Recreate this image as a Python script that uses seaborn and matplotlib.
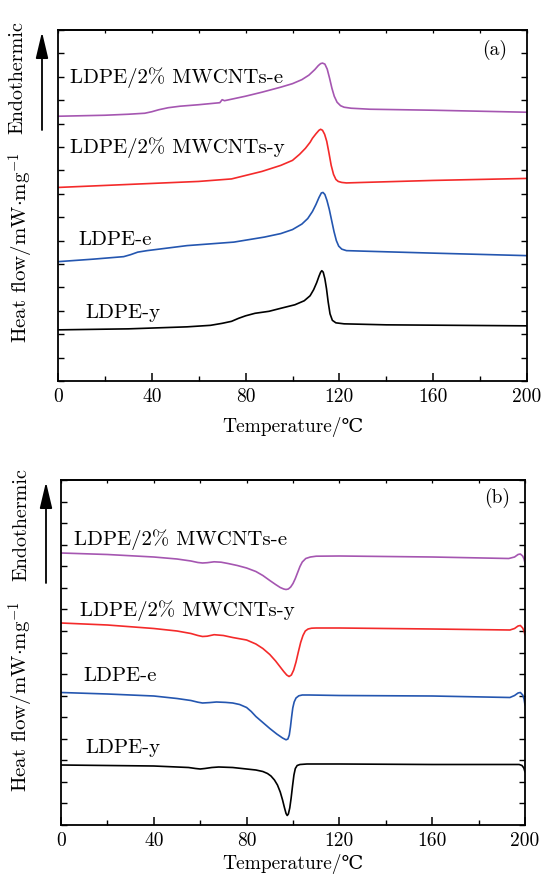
import matplotlib
matplotlib.use("Agg")
import matplotlib.pyplot as plt
import seaborn as sns
import pandas as pd
from matplotlib.ticker import MultipleLocator

# ---------------- data (panel a: heating) ----------------
# y values are in arbitrary heat-flow units (axis has no tick labels)
a_mw_e_T = [0, 20, 30, 37, 40, 43, 47, 52, 60, 69, 70, 71, 80, 87, 95, 100, 104, 107, 109.5,
            111, 112, 112.8, 113.8, 114.8, 115.8, 116.8, 117.8, 119, 120.5, 122, 125, 133,
            160, 200]
a_mw_e_y = [264, 265, 266, 267, 268.5, 270.5, 272.5, 274, 275.5, 277.5, 280.5, 279.5, 284,
            288, 293, 296.5, 300.5, 305, 310.5, 314.5, 316.5, 317, 316, 311, 302, 292, 284,
            278, 274.5, 273, 272, 271, 270, 268]

a_mw_y_T = [0, 30, 60, 74, 87, 95, 100, 103, 105.5, 107.5, 108.5, 110, 111.3, 112, 112.8,
            113.7, 114.6, 115.5, 116.5, 117.5, 118.5, 119.5, 121, 123, 130, 160, 200]
a_mw_y_y = [193, 196, 199, 201.5, 209, 215, 220, 226, 232, 238, 242, 246.5, 250, 251,
            250, 246, 239, 228, 215, 206, 201, 199, 198, 197.5, 198, 200, 202]

a_pe_e_T = [0, 15, 28, 31, 34, 38, 55, 75, 88, 95, 100, 104, 106.5, 108.5, 110, 111.3,
            112.3, 113, 113.8, 114.7, 115.7, 116.7, 117.7, 118.7, 119.7, 121, 123, 130, 160,
            200]
a_pe_e_y = [119, 121.5, 124, 126, 128.5, 130, 135, 138.5, 143.5, 147, 151, 156.5, 162,
            169, 176, 183, 187.5, 188, 186, 180, 171, 160, 149, 140, 134.5, 131.5, 130,
            129.5, 127.5, 125]

a_pe_y_T = [0, 30, 55, 65, 70, 74, 77, 80, 84, 90, 95, 101, 105, 107.5, 109, 110.3, 111.3,
            112, 112.5, 113.1, 113.8, 114.5, 115.2, 116, 117, 118.5, 122, 140, 200]
a_pe_y_y = [51, 52, 54, 55.5, 57.5, 59.5, 62.5, 65, 67.5, 69.5, 72.5, 76, 80, 85, 91, 98,
            104.5, 108.5, 110, 108.5, 102, 92, 79, 67, 60.5, 58, 57, 56, 55]

# ---------------- data (panel b: cooling) ----------------
b_mw_e_T = [0, 20, 40, 50, 56, 59, 61, 63, 66, 69, 72, 76, 80, 84, 87, 90, 92.5, 94.5,
            96, 97, 98, 99, 100, 101, 102, 103, 104, 105.5, 107.5, 110, 120, 160, 193,
            195.5, 197, 198, 199, 199.6, 200]
b_mw_e_y = [272, 270.5, 268, 266, 264, 262.5, 262, 262.3, 263.2, 262.8, 261.5, 259.5,
            257, 253.5, 249.5, 244.5, 240.5, 237.5, 236, 235.5, 236, 238, 241.5, 246.5,
            252.5, 258.5, 263, 266.5, 268, 268.8, 269, 268, 266.5, 268, 270.5, 271, 269,
            266, 262]

b_mw_y_T = [0, 20, 40, 50, 56, 59, 61, 63, 66, 70, 74, 80, 84, 87, 90, 92.5, 94.5, 96,
            97.3, 98.3, 99.3, 100.3, 101.3, 102.3, 103.3, 104.3, 105.3, 106.5, 108,
            110, 120, 160, 193.5, 195.5, 197, 198, 199, 199.6, 200]
b_mw_y_y = [202, 200, 196.5, 194, 191.5, 189.5, 188.5, 188.8, 190.3, 189.5, 187.5, 185,
            181, 176.5, 170.5, 164, 158, 153.5, 150, 148.5, 150, 155, 163, 173, 182.5,
            189.5, 194, 196, 196.8, 197, 197, 196, 195, 196.5, 199, 199.5, 197, 194, 190]

b_pe_e_T = [0, 20, 40, 50, 56, 59, 61, 64, 67, 71, 74, 77, 80, 82, 84, 87, 90, 93, 95.5,
            97, 97.8, 98.4, 98.9, 99.4, 99.9, 100.5, 101.3, 102.5, 104, 107, 120, 160,
            193.5, 195.5, 197, 198, 199, 199.6, 200]
b_pe_e_y = [132.5, 131, 129, 126.5, 124.5, 122.8, 122, 122.4, 123, 122.6, 122, 120.5,
            117.5, 113.5, 108.5, 102.5, 96.5, 91, 87, 85.2, 86, 90, 98, 108, 117, 123,
            127, 129.2, 130, 130, 129.5, 129, 127.5, 129.5, 132, 132.5, 130, 126, 120]

b_pe_y_T = [0, 40, 55, 58, 60, 62, 65, 68, 74, 80, 84, 87, 89, 90.5, 92, 93.3, 94.5, 95.5,
            96.3, 97, 97.5, 98, 98.6, 99.2, 99.8, 100.4, 101, 101.8, 103, 106, 120, 160,
            195, 197.5, 198.7, 199.5, 200]
b_pe_y_y = [60, 59, 57.5, 56.5, 56, 56.5, 57.5, 58, 57.5, 56, 55, 53.5, 51.5, 49, 45, 40,
            33, 25, 17.5, 11.5, 9.5, 11, 17, 27, 39, 50, 56.5, 59.5, 60.5, 61, 61, 60.5,
            60.5, 60.5, 59.5, 57, 53]

series_names = ["LDPE/2% MWCNTs-e", "LDPE/2% MWCNTs-y", "LDPE-e", "LDPE-y"]
colors = ["#a556b1", "#f42a2a", "#2456b0", "#000000"]
x_ticks = [0, 40, 80, 120, 160, 200]

# ---------------- style ----------------
sns.set_style("ticks")
plt.rcParams["font.family"] = ["cmr10", "DejaVu Serif"]
plt.rcParams["mathtext.fontset"] = "cm"
plt.rcParams["axes.formatter.use_mathtext"] = True
plt.rcParams["axes.unicode_minus"] = False
plt.rcParams["text.color"] = "black"
plt.rcParams["axes.labelcolor"] = "black"
plt.rcParams["xtick.color"] = "black"
plt.rcParams["ytick.color"] = "black"

W, H = 548, 874
fig = plt.figure(figsize=(W / 100, H / 100), dpi=100)


def make_axes(l, t, r, b):
    return fig.add_axes([l / W, 1 - b / H, (r - l) / W, (b - t) / H])


def style_axes(ax, ymax, nint, lpad):
    ax.set_xlim(0, 200)
    ax.set_ylim(0, ymax)
    ax.set_xticks(x_ticks)
    ax.set_xticklabels([str(v) for v in x_ticks])
    ax.xaxis.set_minor_locator(MultipleLocator(20))
    ax.yaxis.set_major_locator(MultipleLocator(ymax / nint))
    ax.set_yticklabels([])
    ax.tick_params(axis="x", which="major", direction="in", length=6, width=1.1,
                   labelsize=14, pad=5, top=False, colors="black")
    ax.tick_params(axis="x", which="minor", direction="in", length=3.5, width=1.0,
                   top=False, colors="black")
    ax.tick_params(axis="y", which="major", direction="in", length=4, width=1.0,
                   left=True, right=True, colors="black")
    for s in ax.spines.values():
        s.set_linewidth(1.3)
        s.set_color("black")
    sec = ax.secondary_xaxis("top")
    sec.set_xticks(list(range(0, 201, 20)))
    sec.set_xticklabels([])
    sec.tick_params(direction="in", length=2.5, width=0.9, colors="black")
    sec.spines["top"].set_linewidth(1.3)
    ax.set_xlabel("Temperature/\u2103", fontsize=14, labelpad=lpad, color="black")
    ax.set_ylabel("")


def draw(ax, Ts, Ys):
    for name, T, Y, c in zip(series_names, Ts, Ys, colors):
        df = pd.DataFrame({"T": T, "y": Y})
        sns.lineplot(data=df, x="T", y="y", ax=ax, color=c, lw=1.2,
                     estimator=None, sort=False, legend=False)


# ---------------- panel a ----------------
ax1 = make_axes(58, 30, 527, 381)
draw(ax1, [a_mw_e_T, a_mw_y_T, a_pe_e_T, a_pe_y_T],
     [a_mw_e_y, a_mw_y_y, a_pe_e_y, a_pe_y_y])
style_axes(ax1, 350, 15, 8)
lab_a = [(70, 78), (70, 148), (78, 240), (85, 313)]
for name, (px, py) in zip(series_names, lab_a):
    ax1.text(px, H - py, name, transform=None, fontsize=15, va="center", ha="left")
ax1.text((495 - 58) / (527 - 58), 1 - (50 - 30) / (381 - 30), "(a)",
         transform=ax1.transAxes, fontsize=14, ha="center", va="center")

# ---------------- panel b ----------------
ax2 = make_axes(61, 480, 525, 825)
draw(ax2, [b_mw_e_T, b_mw_y_T, b_pe_e_T, b_pe_y_T],
     [b_mw_e_y, b_mw_y_y, b_pe_e_y, b_pe_y_y])
style_axes(ax2, 345, 16, 3)
lab_b = [(74, 540), (80, 611), (83, 676), (85, 748)]
for name, (px, py) in zip(series_names, lab_b):
    ax2.text(px, H - py, name, transform=None, fontsize=15, va="center", ha="left")
ax2.text((497 - 61) / (525 - 61), 1 - (498 - 480) / (825 - 480), "(b)",
         transform=ax2.transAxes, fontsize=14, ha="center", va="center")

# ---------------- y labels and arrows ----------------
for (ex, ey), (hx, hy), (arx, ar_top, ar_bot) in [
        ((17, 78), (21, 248), (42, 32, 130)),
        ((21, 525), (21, 697), (46, 482, 583))]:
    fig.text(ex / W, 1 - ey / H, "Endothermic", rotation=90, fontsize=14.5,
             ha="center", va="center")
    fig.text(hx / W, 1 - hy / H, r"Heat flow/mW$\cdot$mg$^{-1}$", rotation=90,
             fontsize=15, ha="center", va="center")
    ax1.annotate("", xy=(arx, H - ar_top), xytext=(arx, H - ar_bot),
                 xycoords="figure pixels", textcoords="figure pixels",
                 arrowprops=dict(arrowstyle="-|>,head_length=1.6,head_width=0.38",
                                 mutation_scale=10, lw=1.3, color="black",
                                 shrinkA=0, shrinkB=0),
                 annotation_clip=False)

fig.savefig("out.png", dpi=100)
